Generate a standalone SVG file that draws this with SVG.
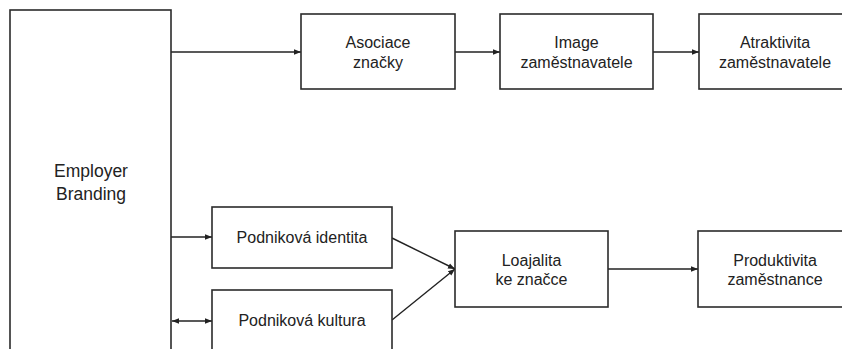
<svg xmlns="http://www.w3.org/2000/svg" width="842" height="349" viewBox="0 0 842 349">
<style>
.box{fill:#fff;stroke:#2b2b2b;stroke-width:1.6}
.t{font-family:"Liberation Sans",Arial,sans-serif;font-size:16px;fill:#222;text-anchor:middle}
.tb{font-size:17.5px}
.c{stroke:#222;stroke-width:1.4;fill:none}
.a{marker-end:url(#ah)}
.d{marker-start:url(#ahs);marker-end:url(#ah)}
</style>
<defs>
<marker id="ah" markerUnits="userSpaceOnUse" markerWidth="8" markerHeight="8" refX="7" refY="4" orient="auto">
<path d="M0,1.2 L7,4 L0,6.8 Z" fill="#222"/>
</marker>
<marker id="ahs" markerUnits="userSpaceOnUse" markerWidth="8" markerHeight="8" refX="7" refY="4" orient="auto-start-reverse">
<path d="M0,1.2 L7,4 L0,6.8 Z" fill="#222"/>
</marker>
</defs>
<rect width="842" height="349" fill="#fff"/>
<g id="connectors">
<line class="c a" x1="171" y1="52" x2="301" y2="52"/>
<line class="c a" x1="455" y1="52" x2="500" y2="52"/>
<line class="c a" x1="653" y1="52" x2="699" y2="52"/>
<line class="c a" x1="171" y1="237" x2="212" y2="237"/>
<line class="c d" x1="172" y1="321" x2="212" y2="321"/>
<line class="c a" x1="392" y1="238" x2="455" y2="269"/>
<line class="c a" x1="392" y1="320" x2="455" y2="269"/>
<line class="c a" x1="608" y1="269" x2="698" y2="269"/>
</g>
<g id="employer-branding">
<rect class="box" x="10" y="10" width="161" height="360"/>
<text class="t tb" x="91" y="177">Employer</text>
<text class="t tb" x="91" y="200">Branding</text>
</g>
<g id="asociace">
<rect class="box" x="301" y="14" width="154" height="75"/>
<text class="t" x="378" y="48">Asociace</text>
<text class="t" x="378" y="68">značky</text>
</g>
<g id="image">
<rect class="box" x="500" y="14" width="153" height="75"/>
<text class="t" x="576.5" y="48">Image</text>
<text class="t" x="576.5" y="68">zaměstnavatele</text>
</g>
<g id="atraktivita">
<rect class="box" x="699" y="14" width="153" height="75"/>
<text class="t" x="775" y="48">Atraktivita</text>
<text class="t" x="775" y="68">zaměstnavatele</text>
</g>
<g id="identita">
<rect class="box" x="212" y="207" width="180" height="61"/>
<text class="t" x="302" y="243">Podniková identita</text>
</g>
<g id="kultura">
<rect class="box" x="212" y="290" width="180" height="80"/>
<text class="t" x="302" y="326">Podniková kultura</text>
</g>
<g id="loajalita">
<rect class="box" x="455" y="231" width="153" height="76"/>
<text class="t" x="531.5" y="266">Loajalita</text>
<text class="t" x="531.5" y="285">ke značce</text>
</g>
<g id="produktivita">
<rect class="box" x="698" y="231" width="154" height="76"/>
<text class="t" x="775" y="266">Produktivita</text>
<text class="t" x="775" y="285">zaměstnance</text>
</g>
</svg>
